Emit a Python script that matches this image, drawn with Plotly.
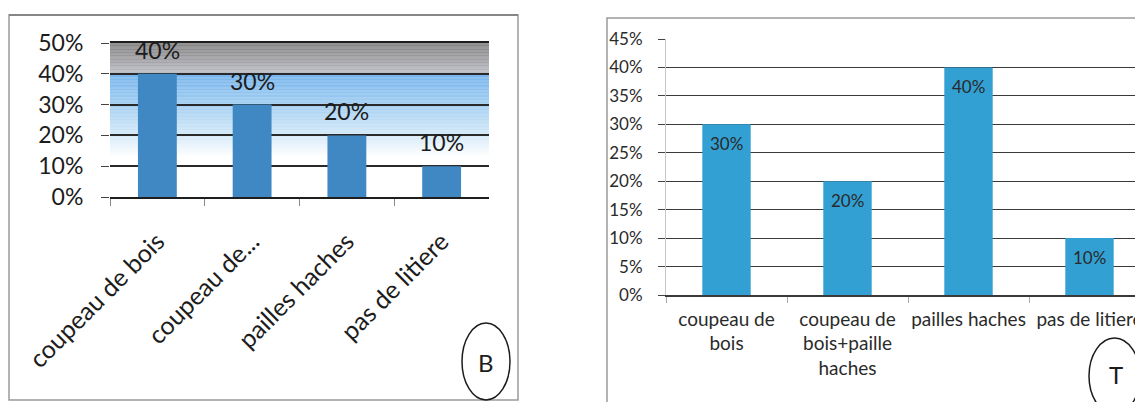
import plotly.graph_objects as go

# ---------------- data ----------------
categories = ["coupeau de bois", "coupeau de bois+paille haches", "pailles haches", "pas de litiere"]
values_B = [0.40, 0.30, 0.20, 0.10]
values_T = [0.30, 0.20, 0.40, 0.10]
ticklabels_B = ["coupeau de bois", "coupeau de...", "pailles haches", "pas de litiere"]
ticklabels_T = ["coupeau de<br>bois", "coupeau de<br>bois+paille<br>haches", "pailles haches", "pas de litiere"]
yticks_B = [0.0, 0.1, 0.2, 0.3, 0.4, 0.5]
yticks_T = [0.0, 0.05, 0.10, 0.15, 0.20, 0.25, 0.30, 0.35, 0.40, 0.45]
label_B = "B"
label_T = "T"

W, H = 1135, 402
FONT = "Lato"


def px(x):
    return x / W


def py(y):
    return 1 - y / H


fig = go.Figure()

fig.add_trace(go.Bar(
    x=categories, y=values_B, xaxis="x", yaxis="y",
    width=0.41, marker=dict(color="#3f88c4", line=dict(width=0)),
    showlegend=False, hoverinfo="skip",
))
fig.add_trace(go.Bar(
    x=categories, y=values_T, xaxis="x2", yaxis="y2",
    width=0.40, marker=dict(color="#32a0d3", line=dict(width=0)),
    showlegend=False, hoverinfo="skip",
))

annotations = []
for c, v in zip(categories, values_B):
    annotations.append(dict(x=c, y=v, xref="x", yref="y", text=f"{v:.0%}",
                            showarrow=False, yshift=24,
                            xanchor="center", yanchor="middle",
                            font=dict(family=FONT, size=23, color="#1c1c1c")))
for c, v in zip(categories, values_T):
    annotations.append(dict(x=c, y=v, xref="x2", yref="y2", text=f"{v:.0%}",
                            showarrow=False, yshift=-19,
                            xanchor="center", yanchor="middle",
                            font=dict(family=FONT, size=17, color="#2a2a2a")))

annotations.append(dict(x=px(486), y=py(362), xref="paper", yref="paper", text=label_B,
                        showarrow=False, xanchor="center", yanchor="middle",
                        font=dict(family=FONT, size=24, color="#1c1c1c")))
annotations.append(dict(x=px(1116), y=py(374), xref="paper", yref="paper", text=label_T,
                        showarrow=False, xanchor="center", yanchor="middle",
                        font=dict(family=FONT, size=24, color="#1c1c1c")))

# ---------------- background gradient for chart B ----------------
stops = [
    (0.50, (130, 130, 130)),
    (0.45, (158, 158, 162)),
    (0.403, (186, 189, 196)),
    (0.400, (118, 180, 236)),
    (0.30, (163, 206, 241)),
    (0.20, (212, 233, 248)),
    (0.13, (255, 255, 255)),
]


def grad_color(v):
    for (v1, c1), (v2, c2) in zip(stops[:-1], stops[1:]):
        if v2 <= v <= v1:
            t = (v1 - v) / (v1 - v2) if v1 != v2 else 0
            c = [round(a + (b - a) * t) for a, b in zip(c1, c2)]
            return "rgb({},{},{})".format(*c)
    return "rgb(255,255,255)"


shapes = []
step = 0.0025
n = int(round((0.5 - 0.12) / step))
for i in range(n):
    y0 = 0.12 + i * step
    y1 = y0 + step + 0.0008
    shapes.append(dict(type="rect", xref="x domain", yref="y", x0=0, x1=1,
                       y0=y0, y1=min(y1, 0.5), fillcolor=grad_color(y0 + step / 2),
                       line=dict(width=0), layer="below"))

# outer frames
shapes.append(dict(type="rect", xref="paper", yref="paper", x0=px(9), x1=px(518),
                   y0=py(400), y1=py(15), line=dict(color="#9a9a9a", width=1.5),
                   fillcolor="rgba(0,0,0,0)", layer="below"))
shapes.append(dict(type="line", xref="paper", yref="paper", x0=px(9), x1=px(518),
                   y0=py(15), y1=py(15), line=dict(color="#777777", width=1.5)))
shapes.append(dict(type="rect", xref="paper", yref="paper", x0=px(607), x1=px(1160),
                   y0=py(420), y1=py(18), line=dict(color="#9a9a9a", width=1.5),
                   fillcolor="rgba(0,0,0,0)", layer="below"))
# circled letters
shapes.append(dict(type="circle", xref="paper", yref="paper", x0=px(462), x1=px(510),
                   y0=py(400), y1=py(323), line=dict(color="#1c1c1c", width=1.5)))
shapes.append(dict(type="circle", xref="paper", yref="paper", x0=px(1089), x1=px(1140),
                   y0=py(414), y1=py(338), line=dict(color="#1c1c1c", width=1.5)))

fig.update_layout(
    template="none",
    width=W, height=H, autosize=False,
    margin=dict(l=0, r=0, t=0, b=0, pad=0, autoexpand=False),
    paper_bgcolor="white", plot_bgcolor="rgba(0,0,0,0)",
    font=dict(family=FONT, color="#1c1c1c"),
    shapes=shapes, annotations=annotations,
    xaxis=dict(
        domain=[px(110), px(489)], anchor="y", type="category", automargin=False,
        categoryorder="array", categoryarray=categories,
        tickmode="array", tickvals=categories, ticktext=ticklabels_B,
        range=[-0.5, 3.5], tickson="boundaries",
        showline=True, mirror=True, linecolor="#1e1e1e", linewidth=2,
        ticks="outside", ticklen=7, tickcolor="#8a8a8a", tickwidth=1,
        tickangle=-45, tickfont=dict(family=FONT, size=25, color="#1c1c1c"),
        ticklabelstandoff=18,
        showgrid=False, zeroline=False, fixedrange=True,
    ),
    yaxis=dict(
        domain=[py(197), py(43)], anchor="x", automargin=False,
        range=[0, 0.5], tickmode="array", tickvals=yticks_B, tickformat=".0%",
        showgrid=True, gridcolor="#2a2a2a", gridwidth=1.5, zeroline=False,
        showline=False, ticks="outside", ticklen=8, tickcolor="#444444",
        tickfont=dict(family=FONT, size=23, color="#1c1c1c"),
        ticklabelstandoff=13, fixedrange=True,
    ),
    xaxis2=dict(
        domain=[px(666), 1.0], anchor="y2", type="category", automargin=False,
        categoryorder="array", categoryarray=categories,
        tickmode="array", tickvals=categories, ticktext=ticklabels_T,
        range=[-0.5, -0.5 + (W - 666) / 121.0], tickson="boundaries",
        showline=True, linecolor="#3a3a3a", linewidth=1.5,
        ticks="outside", ticklen=6, tickcolor="#aaaaaa", tickwidth=1,
        tickangle=0, tickfont=dict(family=FONT, size=19, color="#2a2a2a"),
        ticklabelstandoff=6,
        showgrid=False, zeroline=False, fixedrange=True,
    ),
    yaxis2=dict(
        domain=[py(295), py(39)], anchor="x2", automargin=False,
        range=[0, 0.45], tickmode="array", tickvals=yticks_T, tickformat=".0%",
        showgrid=True, gridcolor="#3a3a3a", gridwidth=1.3, zeroline=False,
        showline=True, linecolor="#c8c8c8", linewidth=1,
        ticks="outside", ticklen=7, tickcolor="#444444",
        tickfont=dict(family=FONT, size=17, color="#2a2a2a"),
        ticklabelstandoff=12, fixedrange=True,
    ),
)

fig.write_html("out.html", config={"displayModeBar": False})
